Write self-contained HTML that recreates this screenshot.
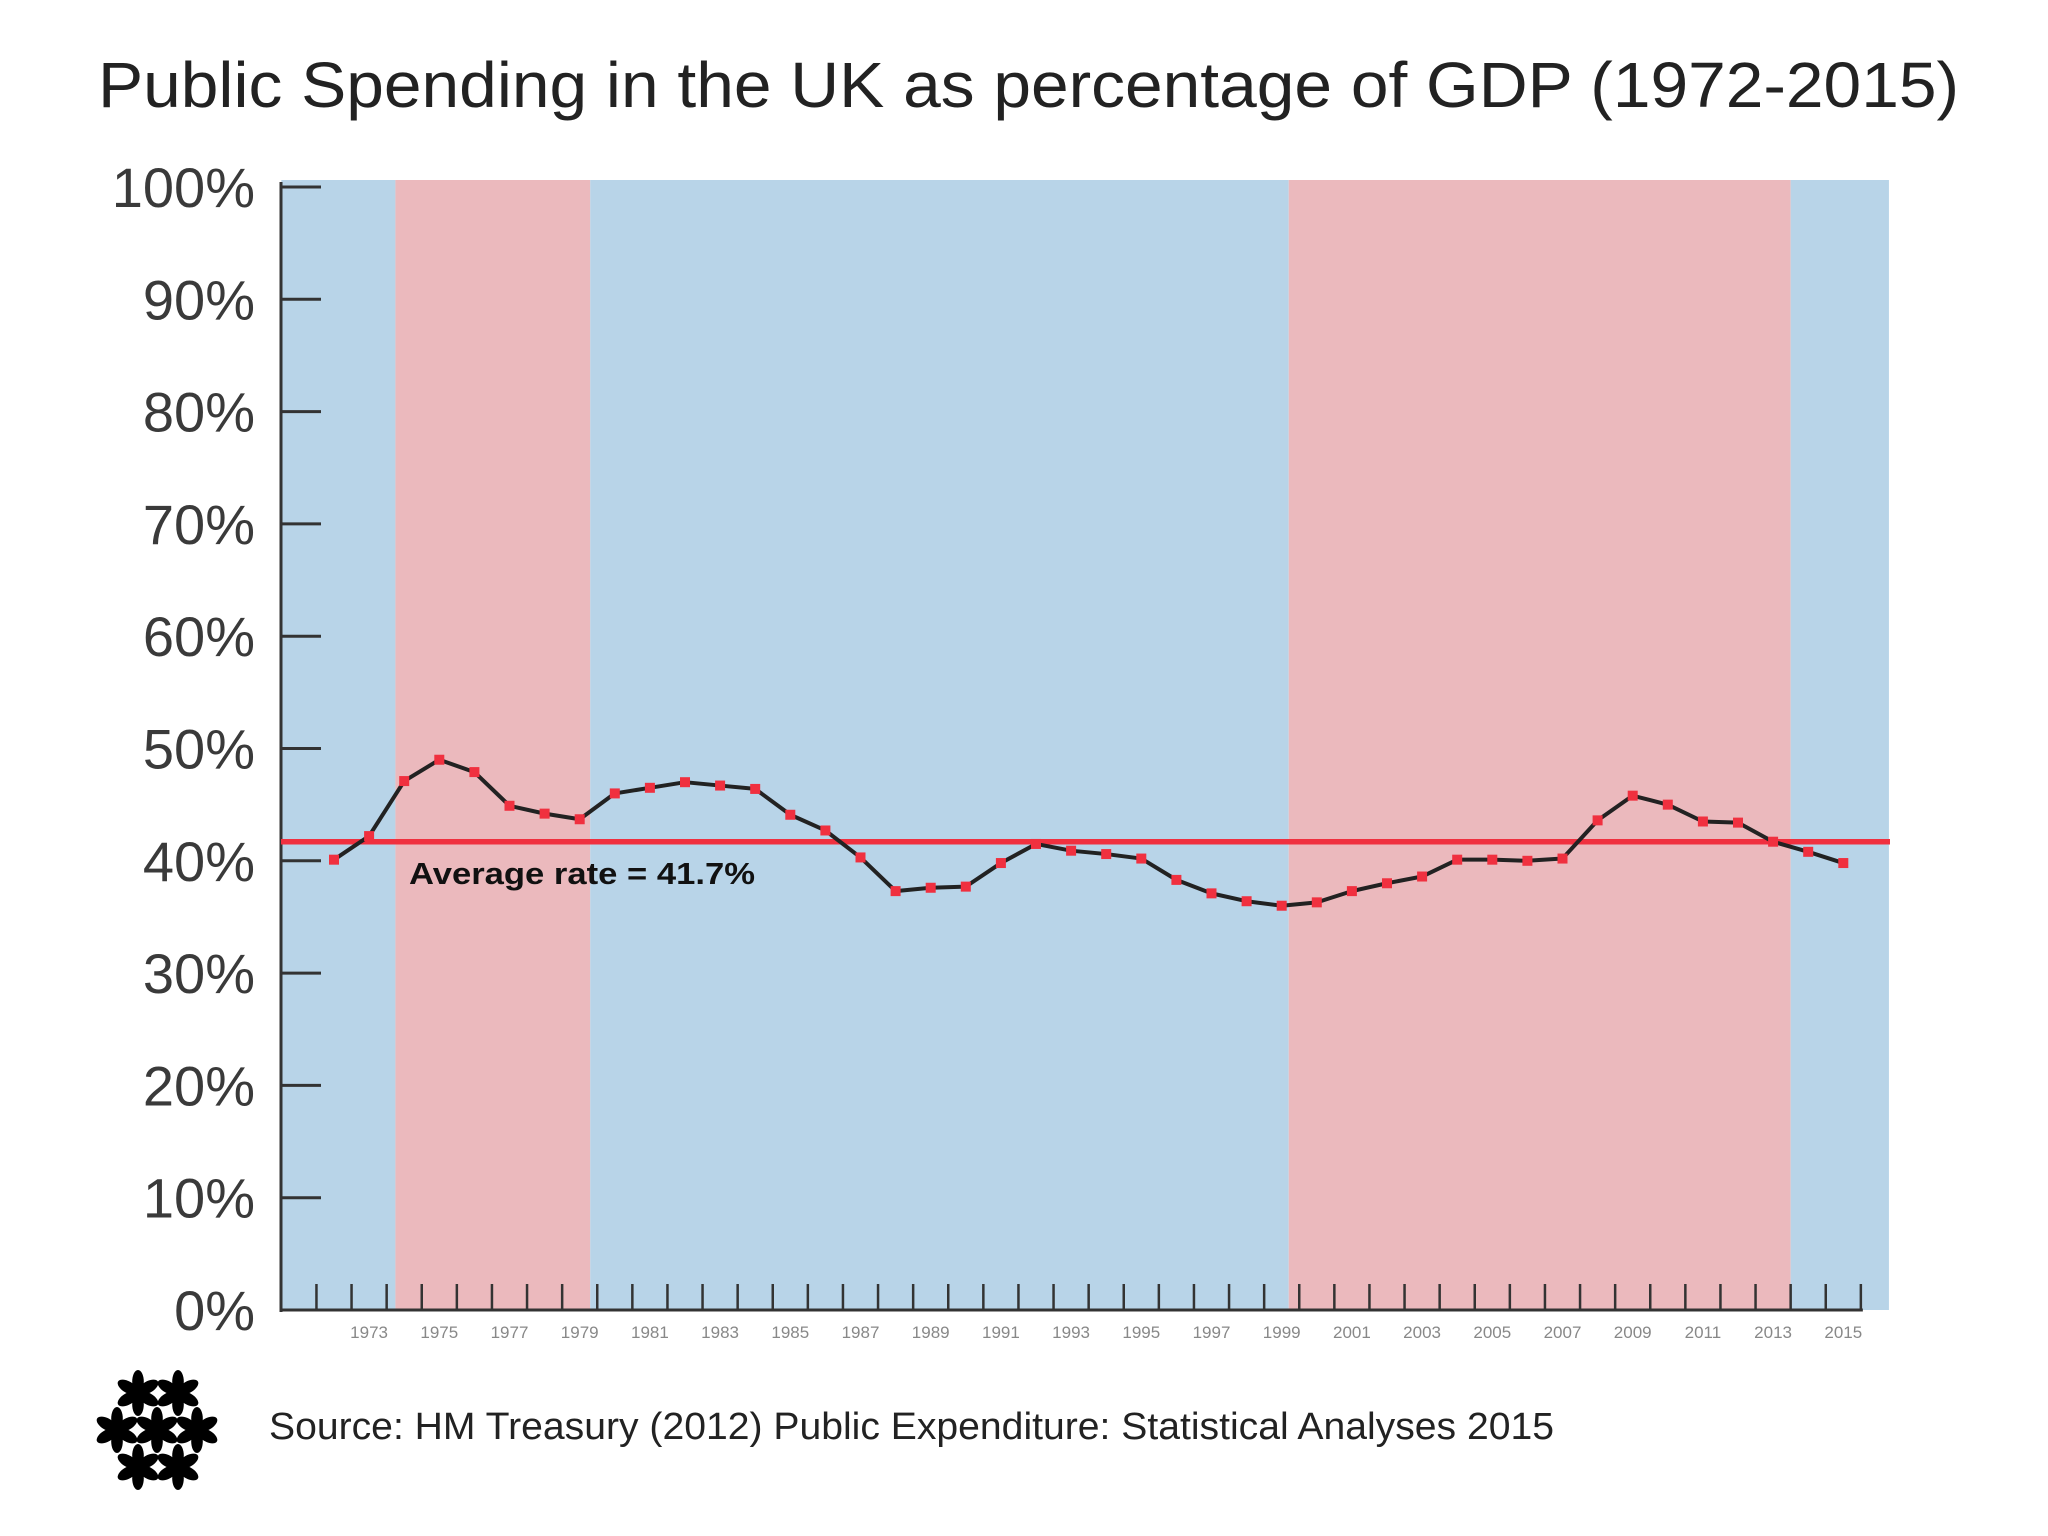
<!DOCTYPE html>
<html><head><meta charset="utf-8"><style>
html,body{margin:0;padding:0;background:#fff;}
svg{display:block;font-family:"Liberation Sans",sans-serif;}
</style></head><body>
<svg id="chart" width="2048" height="1536" viewBox="0 0 2048 1536" xmlns="http://www.w3.org/2000/svg">
<text x="98" y="107" font-size="64" fill="#222" textLength="1861" lengthAdjust="spacingAndGlyphs">Public Spending in the UK as percentage of GDP (1972-2015)</text>
<g id="bands"></g>
<g id="yaxis"></g>
<g id="xaxis"></g>
<g id="series"></g>
<text x="409" y="884" font-size="31" font-weight="bold" fill="#111" textLength="346" lengthAdjust="spacingAndGlyphs">Average rate = 41.7%</text>
<g id="logo"></g>
<text x="269" y="1439" font-size="38" fill="#222" textLength="1285" lengthAdjust="spacingAndGlyphs">Source: HM Treasury (2012) Public Expenditure: Statistical Analyses 2015</text>
</svg>
<script>
const years = [1972,1973,1974,1975,1976,1977,1978,1979,1980,1981,1982,1983,1984,1985,1986,1987,1988,1989,1990,1991,1992,1993,1994,1995,1996,1997,1998,1999,2000,2001,2002,2003,2004,2005,2006,2007,2008,2009,2010,2011,2012,2013,2014,2015];
const spending = [40.1,42.2,47.1,49.0,47.9,44.9,44.2,43.7,46.0,46.5,47.0,46.7,46.4,44.1,42.7,40.3,37.3,37.6,37.7,39.8,41.5,40.9,40.6,40.2,38.3,37.1,36.4,36.0,36.3,37.3,38.0,38.6,40.1,40.1,40.0,40.2,43.6,45.8,45.0,43.5,43.4,41.7,40.8,39.8];
const average = 41.7;
const yTicks = [0,10,20,30,40,50,60,70,80,90,100];
const bandStarts = [1970.5,1973.75,1979.3,1999.2,2013.5];
const bandEnds = [1973.75,1979.3,1999.2,2013.5,2016.3];
const bandParty = ["con","lab","con","lab","con"];

const NS="http://www.w3.org/2000/svg";
const L=281,R=1890,T=180,B=1310;
const x=y=>334+(y-1972)*35.1;
const yv=v=>1310-v*11.23;
function mk(tag,attrs,parent){const e=document.createElementNS(NS,tag);for(const k in attrs)e.setAttribute(k,attrs[k]);parent.appendChild(e);return e;}
const bands=document.getElementById('bands');
bandStarts.forEach((s,i)=>{
  const e=mk('rect',{x:Math.max(L,x(s)),y:T,width:Math.min(R,x(bandEnds[i]))-Math.max(L,x(s)),height:B-T,fill:bandParty[i]==="lab"?"#ebb9bd":"#b8d4e8"},bands);
  
  
});
const ya=document.getElementById('yaxis');
mk('line',{x1:L,y1:yv(100)-5,x2:L,y2:B+2,stroke:'#333','stroke-width':3},ya);
yTicks.forEach(t=>{
  mk('line',{x1:L,y1:yv(t),x2:L+40,y2:yv(t),stroke:'#333','stroke-width':3},ya);
  const tx=mk('text',{x:255,y:yv(t)+20,'font-size':56,'text-anchor':'end',fill:'#3a3a3a'},ya);
  tx.textContent=t+'%';
  
  
});
const xa=document.getElementById('xaxis');
mk('line',{x1:L,y1:B,x2:x(2015.5)+2,y2:B,stroke:'#333','stroke-width':3},xa);
for(let yr=1971.5;yr<=2015.5;yr+=1){mk('line',{x1:x(yr),y1:B,x2:x(yr),y2:B-26,stroke:'#333','stroke-width':2.5},xa);}
years.forEach(yr=>{
  if(yr%2===1){
    const tx=mk('text',{x:x(yr),y:1338,'font-size':17,'text-anchor':'middle',fill:'#888'},xa);
    tx.textContent=yr;
    
    
  }
});
const se=document.getElementById('series');
const avg=mk('line',{x1:L,y1:yv(average),x2:R,y2:yv(average),stroke:'#f0303f','stroke-width':5.5},se);


const ln=mk('polyline',{points:years.map((yr,i)=>x(yr)+','+yv(spending[i])).join(' '),fill:'none',stroke:'#222','stroke-width':4,'stroke-linejoin':'round'},se);


years.forEach((yr,i)=>{
  const p=mk('rect',{x:x(yr)-5,y:yv(spending[i])-5,width:10,height:10,fill:'#f0303f'},se);
  
  
});
const lg=document.getElementById('logo');
[[138,1393],[178,1393],[117,1430],[157,1430],[197,1430],[138,1467],[178,1467]].forEach(c=>{
  for(let a=0;a<360;a+=60){
    mk('ellipse',{cx:c[0]+11.5,cy:c[1],rx:11.5,ry:5.8,fill:'#000',transform:'rotate('+(a+30)+' '+c[0]+' '+c[1]+')'},lg);
  }
});
</script>
</body></html>
